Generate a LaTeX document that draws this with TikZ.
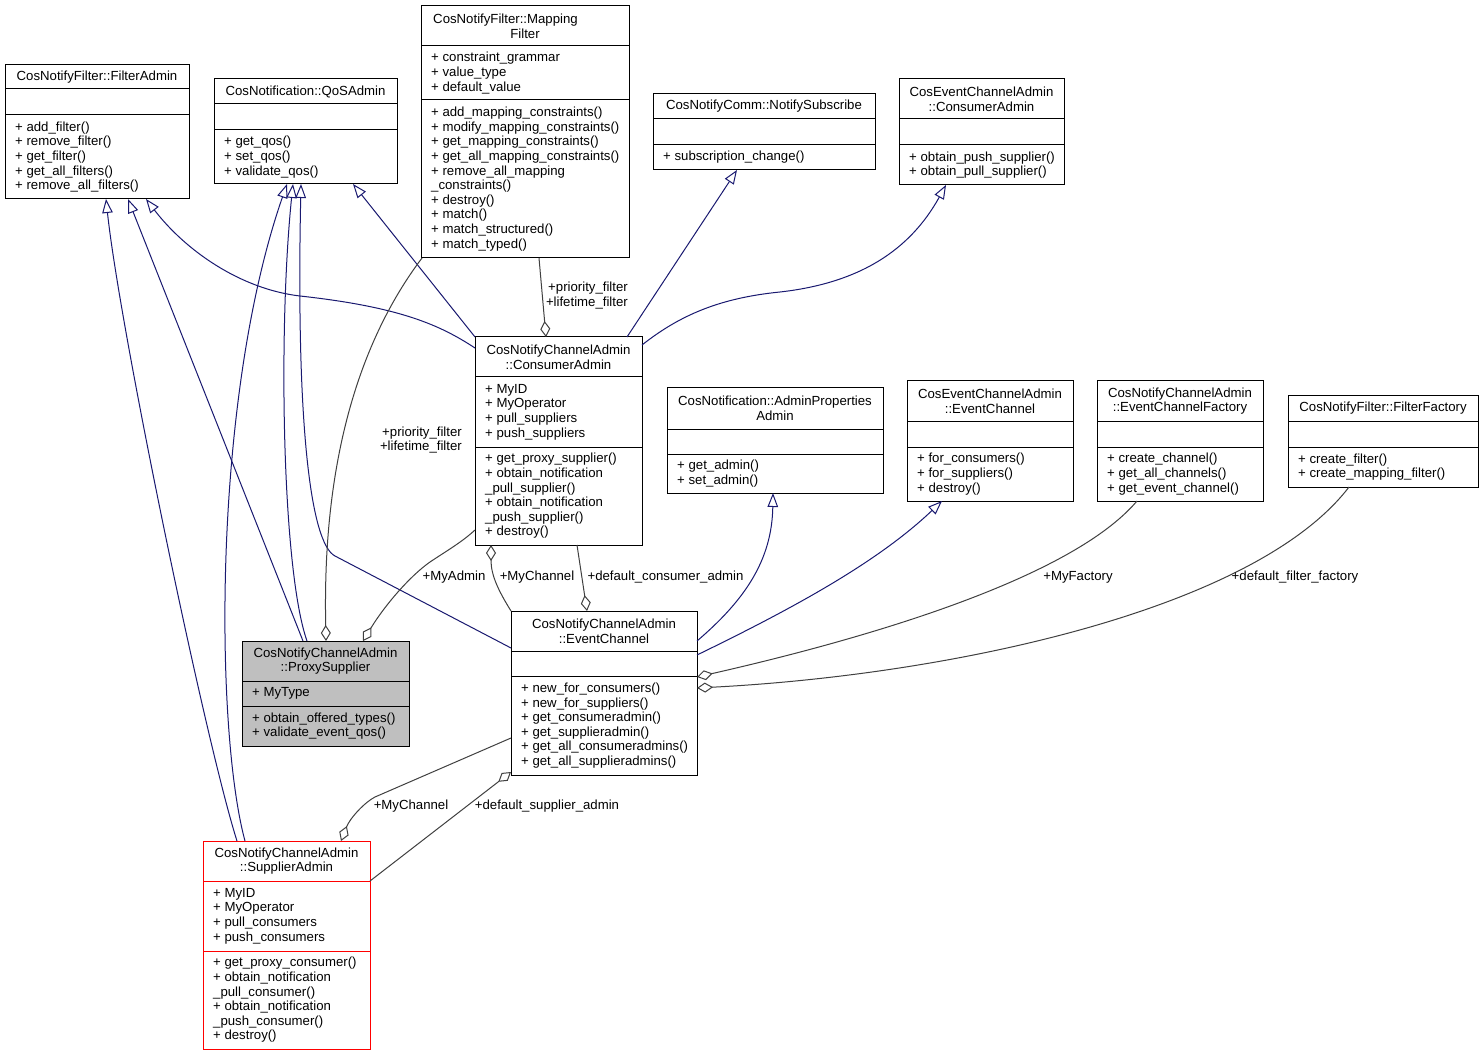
\documentclass[tikz,border=0pt]{standalone}
\usepackage{fontspec}
\setmainfont{Liberation Sans}
\usetikzlibrary{arrows.meta,calc}
\definecolor{navyedge}{RGB}{25,25,112}
\definecolor{grayedge}{RGB}{64,64,64}
\definecolor{psfill}{RGB}{191,191,191}
\newcommand\umlfs{\fontsize{13.2pt}{14.6pt}\selectfont}
% #1 name, #2 style, #3 x, #4 y, #5 width, #6 first divider, #7 second divider, #8 total height
\newcommand\classbox[8]{%
  \node[umlbox,#2,minimum width=#5pt,minimum height=#8pt,anchor=north west] (#1) at (#3,#4) {};
  \draw[divl,#2] ($(#1.north west)+(0,#6)$) -- ($(#1.north east)+(0,#6)$);
  \draw[divl,#2] ($(#1.north west)+(0,#7)$) -- ($(#1.north east)+(0,#7)$);
}
\tikzset{
  umlbox/.style={draw=black, fill=white, line width=1pt, inner sep=0pt, outer sep=0pt},
  divl/.style={draw=black, line width=1pt},
  ttl/.style={font=\umlfs, align=center, inner sep=0pt},
  lst/.style={font=\umlfs, align=left, inner sep=0pt, anchor=west},
  lbl/.style={font=\umlfs, inner sep=0pt},
  inh/.style={draw=navyedge, line width=1pt, -{Triangle[open,length=14pt,width=10.5pt]}},
  agg/.style={draw=grayedge, line width=1pt, -{Diamond[open,length=16pt,width=10pt]}},
}
\begin{document}
\begin{tikzpicture}[x=1pt,y=-1pt]
\useasboundingbox (0,0) rectangle (1483,1056);
\fill[white] (0,0) rectangle (1483,1056);

% ---------- class boxes ----------
\classbox{fa}{}{5}{65}{184}{24}{50}{134}
\node[ttl] (fa-t) at (97,77) {CosNotifyFilter::FilterAdmin};
\node[lst] (fa-m) at (15,157) {+ add\_filter()\\+ remove\_filter()\\+ get\_filter()\\+ get\_all\_filters()\\+ remove\_all\_filters()};

\classbox{qos}{}{214}{79}{183}{25}{51}{105}
\node[ttl] (qos-t) at (305.5,91.5) {CosNotification::QoSAdmin};
\node[lst] (qos-m) at (224,157) {+ get\_qos()\\+ set\_qos()\\+ validate\_qos()};

\classbox{mf}{}{421}{6}{208}{40}{94}{252}
\node[ttl] (mf-t) at (525,26) {CosNotifyFilter::Mapping\hspace*{39pt}\\Filter};
\node[lst] (mf-a) at (431,73) {+ constraint\_grammar\\+ value\_type\\+ default\_value};
\node[lst] (mf-m) at (431,179) {+ add\_mapping\_constraints()\\+ modify\_mapping\_constraints()\\+ get\_mapping\_constraints()\\+ get\_all\_mapping\_constraints()\\+ remove\_all\_mapping\\\_constraints()\\+ destroy()\\+ match()\\+ match\_structured()\\+ match\_typed()};

\classbox{ns}{}{653}{94}{222}{25}{51}{76}
\node[ttl] (ns-t) at (764,106.5) {CosNotifyComm::NotifySubscribe};
\node[lst] (ns-m) at (663,157.5) {+ subscription\_change()};

\classbox{eca}{}{899}{79}{165}{40}{66}{106}
\node[ttl] (eca-t) at (981.5,99) {CosEventChannelAdmin\\::ConsumerAdmin};
\node[lst] (eca-m) at (909,165) {+ obtain\_push\_supplier()\\+ obtain\_pull\_supplier()};

\classbox{ca}{}{475}{337}{167}{40}{110}{208}
\node[ttl] (ca-t) at (558.5,357) {CosNotifyChannelAdmin\\::ConsumerAdmin};
\node[lst] (ca-a) at (485,412) {+ MyID\\+ MyOperator\\+ pull\_suppliers\\+ push\_suppliers};
\node[lst] (ca-m) at (485,496) {+ get\_proxy\_supplier()\\+ obtain\_notification\\\_pull\_supplier()\\+ obtain\_notification\\\_push\_supplier()\\+ destroy()};

\classbox{apa}{}{667}{388}{216}{41}{66}{105}
\node[ttl] (apa-t) at (775,408.5) {CosNotification::AdminProperties\\Admin};
\node[lst] (apa-m) at (677,473.5) {+ get\_admin()\\+ set\_admin()};

\classbox{ece}{}{907}{381}{166}{40}{66}{120}
\node[ttl] (ece-t) at (990,401) {CosEventChannelAdmin\\::EventChannel};
\node[lst] (ece-m) at (917,474) {+ for\_consumers()\\+ for\_suppliers()\\+ destroy()};

\classbox{ecf}{}{1097}{381}{166}{40}{66}{120}
\node[ttl] (ecf-t) at (1180,401) {CosNotifyChannelAdmin\\::EventChannelFactory};
\node[lst] (ecf-m) at (1107,474) {+ create\_channel()\\+ get\_all\_channels()\\+ get\_event\_channel()};

\classbox{ff}{}{1288}{396}{190}{25}{51}{91}
\node[ttl] (ff-t) at (1383,408.5) {CosNotifyFilter::FilterFactory};
\node[lst] (ff-m) at (1298,467) {+ create\_filter()\\+ create\_mapping\_filter()};

\classbox{ps}{fill=psfill}{242}{641}{167}{40}{65}{105}
\node[ttl] (ps-t) at (325.5,661) {CosNotifyChannelAdmin\\::ProxySupplier};
\node[lst] (ps-a) at (252,693.5) {+ MyType};
\node[lst] (ps-m) at (252,726) {+ obtain\_offered\_types()\\+ validate\_event\_qos()};

\classbox{ec}{}{511}{611}{186}{40}{65}{164}
\node[ttl] (ec-t) at (604,631) {CosNotifyChannelAdmin\\::EventChannel};
\node[lst] (ec-m) at (521,725.5) {+ new\_for\_consumers()\\+ new\_for\_suppliers()\\+ get\_consumeradmin()\\+ get\_supplieradmin()\\+ get\_all\_consumeradmins()\\+ get\_all\_supplieradmins()};

\classbox{sa}{draw=red}{203}{841}{167}{40}{110}{208}
\node[ttl] (sa-t) at (286.5,861) {CosNotifyChannelAdmin\\::SupplierAdmin};
\node[lst] (sa-a) at (213,916) {+ MyID\\+ MyOperator\\+ pull\_consumers\\+ push\_consumers};
\node[lst] (sa-m) at (213,1000) {+ get\_proxy\_consumer()\\+ obtain\_notification\\\_pull\_consumer()\\+ obtain\_notification\\\_push\_consumer()\\+ destroy()};

% ---------- inheritance ----------
\draw[inh] ($(sa.north west)+(34,0)$) .. controls (205,740) and (120,330) .. ($(fa.south west)+(101,0)$);
\draw[inh] ($(ps.north west)+(61,0)$) -- ($(fa.south west)+(123,0)$);
\draw[inh] ($(ca.north west)+(0,11)$) .. controls (440,325) and (400,307) .. (300,296)
           .. controls (240,289) and (185,250) .. ($(fa.south west)+(141,0)$);
\draw[inh] (ca.north west) -- ($(qos.south west)+(139,0)$);
\draw[inh] ($(sa.north west)+(42,0)$) .. controls (215,730) and (212,400) .. ($(qos.south west)+(73,0)$);
\draw[inh] ($(ps.north west)+(65,0)$) .. controls (282,570) and (278,330) .. ($(qos.south west)+(79,0)$);
\draw[inh] ($(ec.north west)+(0,37)$) -- (335,556) .. controls (310,543) and (296,420) .. ($(qos.south west)+(87,0)$);
\draw[inh] ($(ca.north west)+(152,0)$) -- ($(ns.south west)+(84,0)$);
\draw[inh] ($(ca.north east)+(0,8)$) .. controls (680,315) and (720,298) .. (780,292)
           .. controls (860,283) and (910,250) .. ($(eca.south west)+(47,0)$);
\draw[inh] ($(ec.north east)+(0,30)$) .. controls (745,600) and (772,560) .. ($(apa.south west)+(106,0)$);
\draw[inh] ($(ec.north east)+(0,44)$) .. controls (800,605) and (880,560) .. ($(ece.south west)+(35,0)$);

% ---------- aggregation ----------
\draw[agg] ($(mf.south west)+(118,0)$) -- ($(ca.north west)+(71,0)$);
\draw[agg] ($(mf.south west)+(1,0)$) .. controls (330,380) and (324,540) .. ($(ps.north west)+(84,0)$);
\draw[agg] ($(ca.south west)+(0,-15)$) .. controls (462,542) and (448,550) .. (430,562)
           .. controls (410,576) and (385,605) .. ($(ps.north west)+(121,0)$);
\draw[agg] (ec.north west) .. controls (498,590) and (491,575) .. ($(ca.south west)+(16,0)$);
\draw[agg] ($(ca.south west)+(102,0)$) -- ($(ec.north west)+(76,0)$);
\draw[agg] ($(ecf.south west)+(40,0)$) .. controls (1070,580) and (860,640) .. ($(ec.north east)+(0,66)$);
\draw[agg] ($(ff.south west)+(61,0)$) .. controls (1255,610) and (950,675) .. ($(ec.north east)+(0,77)$);
\draw[agg] ($(ec.north west)+(0,127)$) -- (375,797) .. controls (365,802) and (350,818) .. ($(sa.north west)+(138,0)$);
\draw[agg] ($(sa.north east)+(0,40)$) -- ($(ec.south west)+(0,-3)$);

% ---------- labels ----------
\node[lbl, align=right, anchor=east] (l1) at (628,295.5) {+priority\_filter\\+lifetime\_filter};
\node[lbl, align=right, anchor=east] (l2) at (462,440) {+priority\_filter\\+lifetime\_filter};
\node[lbl] (l3) at (454,577) {+MyAdmin};
\node[lbl] (l4) at (537,577) {+MyChannel};
\node[lbl] (l5) at (665.5,577) {+default\_consumer\_admin};
\node[lbl] (l6) at (1078,577) {+MyFactory};
\node[lbl] (l7) at (1295,577) {+default\_filter\_factory};
\node[lbl] (l8) at (411,806) {+MyChannel};
\node[lbl] (l9) at (547,806) {+default\_supplier\_admin};
\end{tikzpicture}
\end{document}
